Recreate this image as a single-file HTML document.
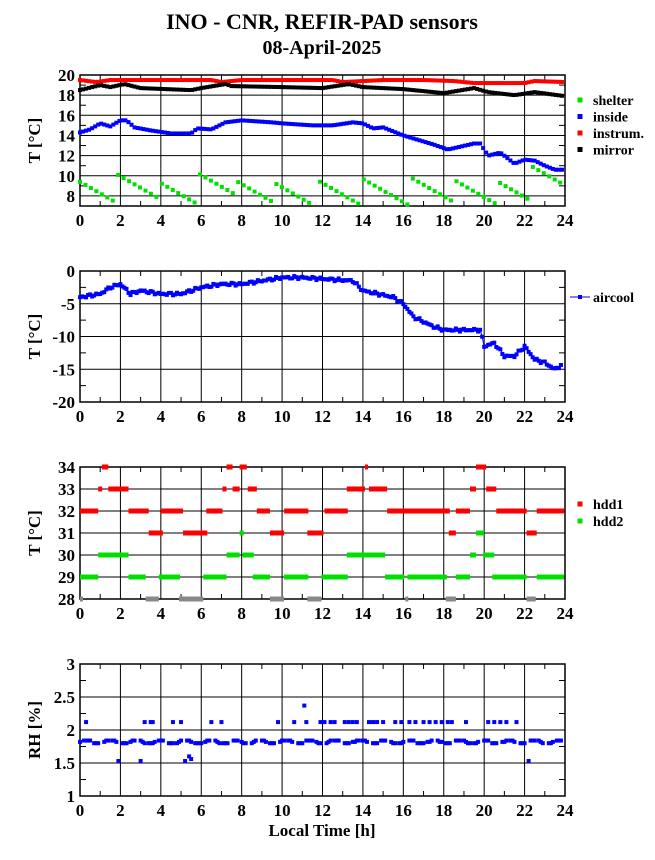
<!DOCTYPE html>
<html><head><meta charset="utf-8"><style>
body{margin:0;background:#fff}
svg{display:block}
text{font-family:"Liberation Serif",serif;font-weight:bold}
</style></head><body>
<svg id="s" width="655" height="860" xmlns="http://www.w3.org/2000/svg">
<text x="322" y="29" font-size="22" text-anchor="middle">INO - CNR, REFIR-PAD sensors</text>
<text x="322" y="54" font-size="20" text-anchor="middle">08-April-2025</text>
<text x="322" y="836" font-size="17" text-anchor="middle">Local Time [h]</text>
</svg>
<script>
const S=document.getElementById('s');const NS='http://www.w3.org/2000/svg';
function el(t,a,txt){const e=document.createElementNS(NS,t);for(const k in a)e.setAttribute(k,a[k]);if(txt!==undefined)e.textContent=txt;S.appendChild(e);return e;}
const X0=80,X1=565;const hx=h=>X0+(X1-X0)*h/24;
function lerp(kp,t){for(let i=0;i<kp.length-1;i++){if(t<=kp[i+1][0]){const a=kp[i],b=kp[i+1];return a[1]+(b[1]-a[1])*(t-a[0])/(b[0]-a[0]);}}return kp[kp.length-1][1];}
function panel(yt,yb,vmax,vmin,ticks,labels,ylab,minor){
  const vy=v=>yt+(vmax-v)*(yb-yt)/(vmax-vmin);
  for(const v of ticks){el('line',{x1:X0,x2:X1,y1:vy(v),y2:vy(v),stroke:'#000','stroke-width':1});}
  for(let h=0;h<=24;h+=2)el('line',{x1:hx(h),x2:hx(h),y1:yt,y2:yb,stroke:'#000','stroke-width':1});
  for(let h=1;h<24;h+=2){el('line',{x1:hx(h),x2:hx(h),y1:yt,y2:yt+5,stroke:'#000'});el('line',{x1:hx(h),x2:hx(h),y1:yb,y2:yb-5,stroke:'#000'});}
  if(minor)for(const v of minor){el('line',{x1:X0,x2:X0+6,y1:vy(v),y2:vy(v),stroke:'#000'});el('line',{x1:X1,x2:X1-6,y1:vy(v),y2:vy(v),stroke:'#000'});}
  el('rect',{x:X0,y:yt,width:X1-X0,height:yb-yt,fill:'none',stroke:'#000','stroke-width':1.5});
  for(let i=0;i<labels.length;i++)el('text',{x:X0-5,y:vy(labels[i][0])+6,'font-size':17,'text-anchor':'end'},labels[i][1]);
  for(let h=0;h<=24;h+=2)el('text',{x:hx(h),y:yb+20,'font-size':17,'text-anchor':'middle'},String(h));
  const cy=(yt+yb)/2;el('text',{x:40,y:cy,'font-size':17,'text-anchor':'middle',transform:`rotate(-90 40 ${cy})`},ylab);
  return vy;
}
function sq(x,y,c,s){s=s||4;el('rect',{x:x-s/2,y:y-s/2,width:s,height:s,fill:c});}
const vy1=panel(75,206,20,7,[20,18,16,14,12,10,8],[[20,'20'],[18,'18'],[16,'16'],[14,'14'],[12,'12'],[10,'10'],[8,'8']],'T [°C]',[19,17,15,13,11,9]);
const G='#00e000',B='#0000ff',R='#ff0000';
const ins=[[0,19.5],[0.8,19.3],[1.5,19.5],[6.5,19.5],[7,19.3],[7.5,19.4],[8,19.5],[12.5,19.5],[13,19.3],[14,19.4],[15,19.5],[17,19.5],[18.5,19.4],[19.5,19.2],[22,19.2],[22.5,19.4],[24,19.3]];
const mir=[[0,18.5],[1,19],[1.5,18.8],[2.2,19.1],[3,18.7],[5.5,18.5],[6,18.7],[7.2,19.1],[7.5,18.9],[10,18.8],[12,18.7],[13.3,19.1],[14,18.8],[16,18.6],[18,18.2],[19.5,18.7],[20.2,18.3],[21.5,18],[22.5,18.3],[24,17.9]];
const inside=[[0,14.3],[0.5,14.6],[1,15.2],[1.5,14.9],[2,15.5],[2.3,15.5],[2.7,14.8],[3.5,14.5],[4.5,14.2],[5.5,14.2],[5.8,14.7],[6.5,14.6],[7.2,15.3],[8,15.5],[9.5,15.3],[10,15.2],[11.5,15],[12.5,15],[13.5,15.3],[14,15.2],[14.5,14.7],[15,14.8],[16,14],[17.5,13.1],[18.2,12.6],[19.5,13.2],[19.8,13.2],[20.2,12],[20.8,12.3],[21.5,11.2],[22,11.6],[22.5,11.5],[23,11],[23.5,10.6],[24,10.6]];
for(let t=0;t<=23.9;t+=0.15){sq(hx(t),vy1(lerp(ins,t)),R,4);sq(hx(t),vy1(lerp(mir,t)),'#000',4);}
for(let t=0;t<=23.9;t+=0.15)sq(hx(t),vy1(lerp(inside,t)),B,4);
const pk=[[0,9.4],[1.7,10.3],[3.8,9.5],[5.8,10.3],[7.8,9.4],[9.7,9.2],[11.8,9.5],[13.9,9.8],[16.4,9.8],[18.5,9.6],[20.6,9.5],[22.3,11]];
for(let t=0;t<=23.9;t+=0.27){let p=pk[0];for(const q of pk)if(q[0]<=t+0.01)p=q;const v=p[1]-(t-p[0])*1.15;if(v>=7.1)sq(hx(t),vy1(v),G,4);}
const lg=[['shelter',G],['inside',B],['instrum.',R],['mirror','#000']];
lg.forEach((l,i)=>{const y=100+i*16.5;sq(580,y,l[1],5);el('text',{x:593,y:y+5,'font-size':14},l[0]);});
const vy2=panel(271,402,0,-20,[0,-5,-10,-15],[[0,'0'],[-5,'-5'],[-10,'-10'],[-15,'-15'],[-20,'-20']],'T [°C]',[-2.5,-7.5,-12.5,-17.5]);
const ac=[[0,-4],[1,-3.5],[1.5,-2.5],[2,-2],[2.5,-3.5],[3,-3],[4,-3.5],[5,-3.5],[6,-2.5],[7,-2],[8,-2],[9,-1.5],[10,-1],[11,-1],[13.5,-1.5],[14,-3],[15.5,-4],[16,-5],[16.5,-7],[17.5,-8.5],[18,-9],[19.8,-9],[20,-11.5],[20.5,-11],[21,-13],[21.5,-13],[22,-11.5],[22.5,-13.5],[23,-14],[23.5,-15],[24,-14]];
let pts=[];for(let t=0;t<=23.9;t+=0.1){const v=lerp(ac,t)+0.25*Math.sin(t*17.3)*Math.sin(t*3.1);pts.push(hx(t)+','+vy2(v));}
el('polyline',{points:pts.join(' '),fill:'none',stroke:B,'stroke-width':1});
pts.forEach(p=>{const [x,y]=p.split(',');sq(+x,+y,B,4);});
el('line',{x1:570,x2:590,y1:297,y2:297,stroke:B});sq(580,297,B,4);
el('text',{x:593,y:302,'font-size':14},'aircool');
const vy3=panel(467,599,34,28,[34,33,32,31,30,29],[[34,'34'],[33,'33'],[32,'32'],[31,'31'],[30,'30'],[29,'29'],[28,'28']],'T [°C]');
const h1={34:[[1.08,1.4],[7.25,7.55],[7.9,8.25],[14.1,14.25],[19.6,20.1]],33:[[0.9,1.1],[1.4,2.4],[7.05,7.25],[7.55,7.9],[8.3,8.75],[13.2,14.1],[14.3,15.2],[19.3,19.6],[20.1,20.6]],32:[[0,0.9],[2.4,3.4],[4,5.1],[6.25,7.05],[8.75,9.4],[10.1,11.3],[12.1,13.25],[15.2,18.3],[18.6,19.3],[20.6,22.1],[22.6,23.95]],31:[[3.4,4.1],[5.1,6.3],[9.4,10.1],[11.25,12.05],[18.25,18.6],[22.1,22.6]]};
const h2={31:[[7.9,8.1],[19.6,20]],30:[[0.9,2.4],[7.25,7.9],[8.05,8.6],[13.2,15.1],[19.3,19.6],[19.95,20.5]],29:[[0,0.9],[2.4,3.25],[3.9,4.95],[6.1,7.25],[8.55,9.4],[10.1,11.3],[11.95,13.25],[15.1,16.05],[16.2,18.15],[18.6,19.3],[20.4,22.1],[22.6,23.95]],28:[[0,0.1],[3.25,3.9],[4.9,6.1],[9.4,10.1],[11.25,11.95],[16.1,16.2],[18.1,18.6],[22.1,22.55]]};
function bars(o,c){for(const v in o)for(const [a,b] of o[v]){el('rect',{x:hx(a),y:vy3(+v)-2.5,width:Math.max(hx(b)-hx(a),3),height:5,fill:(+v===28?'#888':c)});}}
bars(h1,R);bars(h2,G);
sq(580,504,R,5);el('text',{x:593,y:509,'font-size':14},'hdd1');
sq(580,521,G,5);el('text',{x:593,y:526,'font-size':14},'hdd2');
const vy4=panel(664,796,3,1,[3,2.5,2,1.5],[[3,'3'],[2.5,'2.5'],[2,'2'],[1.5,'1.5'],[1,'1']],'RH [%]',[2.75,2.25,1.75,1.25]);
const hi=[0.3,3.2,3.5,3.6,4.6,5.0,6.5,7.0,9.8,10.6,11.2,11.9,12.1,12.4,12.6,13.1,13.3,13.5,13.7,14.3,14.5,14.7,15.0,15.6,15.9,16.3,16.6,17.0,17.3,17.6,17.9,18.2,18.4,19.1,20.2,20.5,20.8,21.1,21.6];
const lo=[1.9,3.0,5.2,22.2];
for(let t=0;t<=23.9;t+=0.1){if(Math.sin(t*13.7)>0.55)continue;const v=1.82+0.03*Math.round(Math.sin(t*5.1)*1.5)/1.5;sq(hx(t),vy4(v),B,4);}
hi.forEach(t=>sq(hx(t),vy4(2.12),B,4));lo.forEach(t=>sq(hx(t),vy4(1.53),B,4));
sq(hx(11.1),vy4(2.37),B,4);sq(hx(5.4),vy4(1.6),B,4);sq(hx(5.5),vy4(1.56),B,4);
</script>
</body></html>
